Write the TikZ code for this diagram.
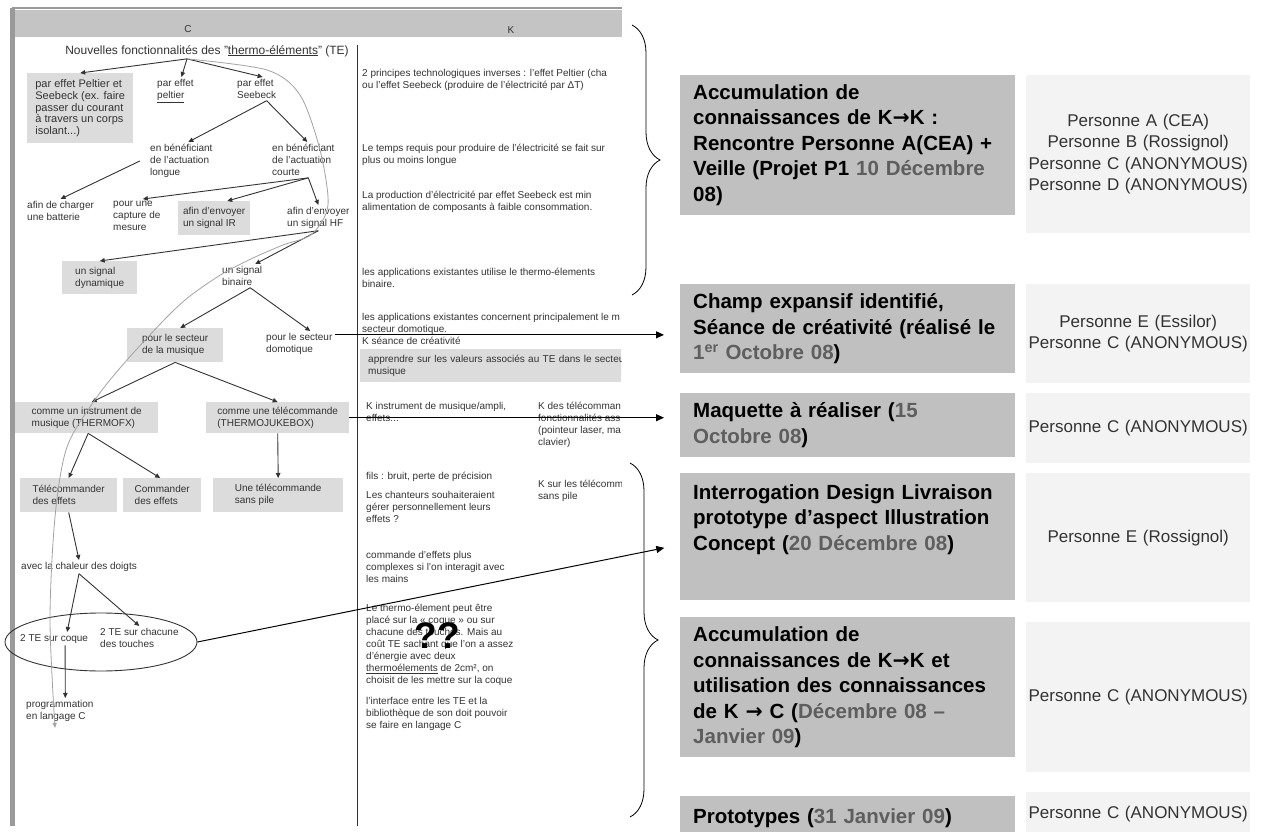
\documentclass[tikz,border=0pt]{standalone}
\usepackage{fontspec}
\setmainfont{Liberation Sans}
\newfontfamily\arrowfont{DejaVu Sans}
\usepackage{tikz}
\usetikzlibrary{arrows.meta,shapes.geometric,decorations.pathreplacing}
\definecolor{PanelGray}{HTML}{C4C4C4}
\definecolor{FrameGray}{HTML}{9A9A9A}
\definecolor{BoxGray}{HTML}{DCDCDC}
\definecolor{StepGray}{HTML}{C0C0C0}
\definecolor{NameGray}{HTML}{F3F3F3}
\definecolor{DateGray}{HTML}{5E5E5E}
\definecolor{InkGray}{HTML}{333333}
\definecolor{CurveGray}{HTML}{A3A3A3}
\newcommand{\kto}{{\arrowfont\bfseries →}}

\begin{document}
\begin{tikzpicture}[x=1pt, y=-1pt,
  lbl/.style={anchor=north west, align=left, inner sep=2pt, text=InkGray,
    font=\fontsize{10}{12}\selectfont},
  gbox/.style={lbl, fill=BoxGray, inner sep=0pt},
  stepbox/.style={anchor=north west, fill=StepGray, align=left, text width=309pt,
    inner xsep=13pt, inner ysep=0pt, font=\bfseries\fontsize{20.5}{25.5}\selectfont},
  namebox/.style={anchor=north west, fill=NameGray, align=center, text width=224pt,
    inner sep=0pt, text=black!80, font=\fontsize{17}{21.5}\selectfont},
  arr/.style={InkGray, line width=0.9pt, -{Triangle[length=5pt,width=4.5pt]}},
  farr/.style={black, line width=1pt, -{Triangle[length=8pt,width=7pt]}, shorten >=16pt},
  curly/.style={decorate, decoration={brace, amplitude=28pt}, line width=0.8pt}]
  \fill[white] (0,0) rectangle (1264,832);
  \useasboundingbox (0,0) rectangle (1264,832);

  \fill[PanelGray] (13,10) rectangle (622,37);
  \draw[FrameGray, line width=2.5pt] (12,8) -- (622,8);
  \fill[FrameGray] (10,8) rectangle (15,826);
  \draw[InkGray, line width=0.8pt] (357,45) -- (357,826);
  \node[lbl, anchor=center] (hdrc) at (188,29) {C};
  \node[lbl, anchor=center] (hdrk) at (511,30) {K};

  \node[lbl, anchor=center, font=\fontsize{12}{14}\selectfont] (title) at (207,51) {Nouvelles fonctionnalités des "\underline{thermo-éléments}" (TE)};
  \coordinate (tfork) at ([xshift=-20pt]title.south);
  \node[gbox, minimum width=106pt, minimum height=70pt, font=\fontsize{11}{11.8}\selectfont] (peltseeb) at (27,73) {par effet Peltier et\\Seebeck (ex. faire\\passer du courant\\à travers un corps\\isolant...)};
  \node[lbl] (peltier) at (155,77) {par effet\\\underline{peltier}};
  \node[lbl] (seebeck) at (235,77) {par effet\\Seebeck};
  \node[lbl] (longue) at (148,142) {en bénéficiant\\de l'actuation\\longue};
  \node[lbl] (courte) at (270,142) {en bénéficiant\\de l'actuation\\courte};
  \node[lbl] (batterie) at (25,199) {afin de charger\\une batterie};
  \node[lbl] (capture) at (111,199) {pour une\\capture de\\mesure};
  \node[gbox, minimum width=72pt, minimum height=34pt] (irbox) at (178,201) {afin d'envoyer\\un signal IR};
  \node[lbl] (hf) at (285,205) {afin d'envoyer\\un signal HF};
  \node[gbox, minimum width=75pt, minimum height=33pt] (dynbox) at (62,261) {un signal\\dynamique};
  \node[lbl] (binaire) at (220,264) {un signal\\binaire};
  \node[gbox, minimum width=96pt, minimum height=34pt] (musbox) at (127,328) {pour le secteur\\de la musique};
  \node[lbl] (domotique) at (264,331) {pour le secteur\\domotique};
  \node[gbox, minimum width=143pt, minimum height=31pt] (instrbox) at (15,402) {comme un instrument de\\musique (THERMOFX)};
  \node[gbox, minimum width=143pt, minimum height=31pt] (telecbox) at (206,402) {comme une télécommande\\(THERMOJUKEBOX)};
  \node[gbox, minimum width=97pt, minimum height=34pt] (telecder) at (20,478) {Télécommander\\des effets};
  \node[gbox, minimum width=78pt, minimum height=34pt] (commder) at (123,478) {Commander\\des effets};
  \node[gbox, minimum width=130pt, minimum height=34pt] (sanspile) at (213,478) {Une télécommande\\sans pile};
  \node[lbl] (chaleur) at (19,560) {avec la chaleur des doigts};
  \node[lbl] (coque) at (18,632) {2 TE sur coque};
  \node[lbl] (touches) at (98,626) {2 TE sur chacune\\des touches};
  \node[draw=InkGray, line width=0.9pt, ellipse, minimum width=192pt, minimum height=58pt, inner sep=0pt] (ell) at (101,642) {};
  \node[lbl] (progc) at (24,698) {programmation\\en langage C};

  \draw[arr] (tfork) -- (peltseeb.north);
  \draw[arr] (tfork) -- ([xshift=6pt]peltier.north);
  \draw[arr] (tfork) -- ([xshift=6pt]seebeck.north);
  \draw[arr] ([xshift=10pt]seebeck.south) -- ([xshift=7pt]longue.north);
  \draw[arr] ([xshift=10pt]seebeck.south) -- ([xshift=4pt]courte.north);
  \draw[arr] ([xshift=-8pt]longue.west) -- (batterie.north);
  \draw[arr] ([xshift=5pt]courte.south) -- ([xshift=6pt]capture.north);
  \draw[arr] ([xshift=5pt]courte.south) -- ([xshift=13pt]irbox.north);
  \draw[arr] ([xshift=5pt]courte.south) -- (hf.north);
  \draw[arr] (hf.south) -- (dynbox.north);
  \draw[arr] (hf.south) -- ([xshift=13pt]binaire.north);
  \draw[arr] ([xshift=8pt]binaire.south) -- ([xshift=5pt]musbox.north);
  \draw[arr] ([xshift=8pt]binaire.south) -- ([xshift=11pt]domotique.north);
  \draw[arr] (musbox.south) -- ([xshift=5pt]instrbox.north);
  \draw[arr] (musbox.south) -- (telecbox.north);
  \draw[arr] ([xshift=1.5pt]instrbox.south) -- (telecder.north);
  \draw[arr] ([xshift=1.5pt]instrbox.south) -- ([xshift=-2pt]commder.north);
  \draw[arr] (telecbox.south) -- (sanspile.north);
  \draw[arr] (telecder.south) -- (chaleur.north);
  \draw[arr] (chaleur.south) -- ([xshift=13pt]coque.north);
  \draw[arr] (chaleur.south) -- (touches.north);
  \draw[arr] ([xshift=11pt]coque.south) -- ([xshift=5.5pt]progc.north);
  \draw[CurveGray, line width=0.8pt, -{Triangle[length=5pt,width=4pt]}] plot[smooth, tension=0.5] coordinates {(tfork) (267,70) (300,95) (320,150) (328,205) (312,234) (283,245) (253,258) (222,274) (190,296) (167,317) (127,360) (97,397) (67,447) (55,517) (50,620) (55,728)};

  \begin{scope}
    \clip (358,40) rectangle (621,830);
    \node[lbl] (kprinc) at (360,67) {2 principes technologiques inverses : l'effet Peltier (cha\\ou l'effet Seebeck (produire de l'électricité par ΔT)};
    \node[lbl] (ktemps) at (360,142) {Le temps requis pour produire de l'électricité se fait sur\\plus ou moins longue};
    \node[lbl] (kseeb) at (360,189) {La production d'électricité par effet Seebeck est min\\alimentation de composants à faible consommation.};
    \node[lbl] (kappl) at (360,266) {les applications existantes utilise le thermo-élements\\binaire.};
    \node[lbl] (kconc) at (360,311) {les applications existantes concernent principalement le m\\secteur domotique.};
    \node[lbl] (kseance) at (360,335) {K séance de créativité};
    \node[gbox, text width=300pt, inner xsep=8pt, minimum height=33pt] (kbox) at (360,349) {apprendre sur les valeurs associés au TE dans le secteu\\musique};
    \node[lbl] (kinstr) at (364,400) {K instrument de musique/ampli,\\effets...};
    \node[lbl] (ktelc) at (536,400) {K des télécomman\\fonctionnalités ass\\(pointeur laser, ma\\clavier)};
    \node[lbl] (kfils) at (364,470) {fils : bruit, perte de précision};
    \node[lbl] (ksans) at (536,478) {K sur les télécomm\\sans pile};
    \node[lbl] (kchant) at (364,489) {Les chanteurs souhaiteraient\\gérer personnellement leurs\\effets ?};
    \node[lbl] (kcomm) at (364,549) {commande d'effets plus\\complexes si l'on interagit avec\\les mains};
    \node[lbl] (kthermo) at (364,602) {Le thermo-élement peut être\\placé sur la « coque » ou sur\\chacune des touches. Mais au\\coût TE sachant que l'on a assez\\d'énergie avec deux\\\underline{thermoélements} de 2cm², on\\choisit de les mettre sur la coque};
    \node[lbl] (kinterf) at (364,695) {l'interface entre les TE et la\\bibliothèque de son doit pouvoir\\se faire en langage C};
  \end{scope}
  \node[font=\bfseries\fontsize{37}{40}\selectfont] (qq) at (437,636) {??};

  \draw[curly] (632,25) -- (632,295);
  \draw[curly] (630,463) -- (630,817);

  \node[stepbox, minimum height=140pt] (acc1) at (680,75) {Accumulation de\\connaissances de K\kto K :\\Rencontre Personne A(CEA) +\\Veille (Projet P1 \textcolor{DateGray}{10 Décembre}\\08)};
  \node[namebox, minimum height=158pt] (who1) at (1026,75) {Personne A (CEA)\\Personne B (Rossignol)\\Personne C (ANONYMOUS)\\Personne D (ANONYMOUS)};
  \node[stepbox, minimum height=89pt] (champ) at (680,284) {Champ expansif identifié,\\Séance de créativité (réalisé le\\\textcolor{DateGray}{1\textsuperscript{er} Octobre 08})};
  \node[namebox, minimum height=99pt] (who2) at (1026,284) {Personne E (Essilor)\\Personne C (ANONYMOUS)};
  \node[stepbox, minimum height=64pt] (maqu) at (680,393) {Maquette à réaliser (\textcolor{DateGray}{15}\\\textcolor{DateGray}{Octobre 08})};
  \node[namebox, minimum height=70pt] (who3) at (1026,393) {Personne C (ANONYMOUS)};
  \node[stepbox, inner ysep=11pt] (interr) at (680,473) {\parbox[c][105pt][t]{309pt}{Interrogation Design Livraison\\prototype d’aspect Illustration\\Concept (\textcolor{DateGray}{20 Décembre 08})}};
  \node[namebox, minimum height=129pt] (who4) at (1026,473) {Personne E (Rossignol)};
  \node[stepbox, minimum height=140pt] (acc2) at (680,617) {Accumulation de\\connaissances de K\kto K et\\utilisation des connaissances\\de K \kto{} C (\textcolor{DateGray}{Décembre 08 –}\\\textcolor{DateGray}{Janvier 09})};
  \node[namebox, minimum height=150pt] (who5) at (1026,622) {Personne C (ANONYMOUS)};
  \node[stepbox, minimum height=44pt] (proto) at (680,796) {Prototypes (\textcolor{DateGray}{31 Janvier 09})};
  \node[namebox, minimum height=44pt] (who6) at (1026,792) {Personne C (ANONYMOUS)};

  \coordinate (domout) at ([yshift=9pt]domotique.east);
  \draw[farr] (domout) -- (domout -| champ.west);
  \draw[farr] (telecbox.east) -- (telecbox.east -| maqu.west);
  \draw[farr] (ell.east) -- ([yshift=-8pt]interr.west);
\end{tikzpicture}
\end{document}
